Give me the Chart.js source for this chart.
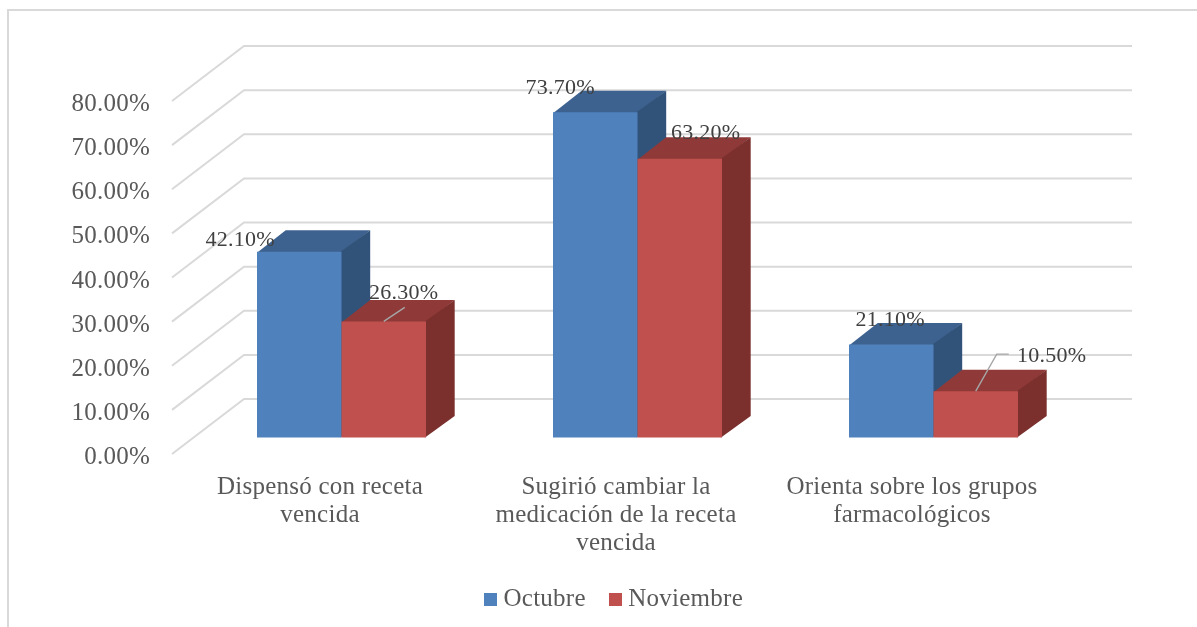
<!DOCTYPE html>
<html>
<head>
<meta charset="utf-8">
<style>
  body { margin: 0; background: #fff; }
  canvas { display: block; }
</style>
<script src="https://cdn.jsdelivr.net/npm/chart.js@4"></script>
</head>
<body>
<canvas id="recetaChart" width="1197" height="627"></canvas>
<script>
const categories = [
  ['Dispensó con receta', 'vencida'],
  ['Sugirió cambiar la', 'medicación de la receta', 'vencida'],
  ['Orienta sobre los grupos', 'farmacológicos']
];
const octubre = [42.1, 73.7, 21.1];
const noviembre = [26.3, 63.2, 10.5];
const yTicks = [0, 10, 20, 30, 40, 50, 60, 70, 80];

const FONT = '"Liberation Serif", serif';
const SPACING = '0.25px';
const floorDepth = { x: 72, y: -55 };
const barShift = { x: 21.5, y: -16.5 };
const barDepth = { x: 28.7, y: -21.5 };
const wallRight = 1132;

// label position relative to the top centre of each bar
const labelOffsets = [
  [[-59, -13], [-35, -25], [-1, -25]],
  [[20, -29], [26, -26], [76, -36]]
];
const faceColors = [
  { top: '#3e628f', side: '#325379' },
  { top: '#8f3a38', side: '#7b302e' }
];

function pct(v) { return v.toFixed(2) + '%'; }

function swatch(color) {
  const c = document.createElement('canvas');
  c.width = 13;
  c.height = 13;
  const g = c.getContext('2d');
  g.fillStyle = color;
  g.fillRect(0, 0, 13, 13);
  return c;
}

function face(ctx, pts, color) {
  ctx.fillStyle = color;
  ctx.beginPath();
  pts.forEach((p, i) => i ? ctx.lineTo(p[0], p[1]) : ctx.moveTo(p[0], p[1]));
  ctx.closePath();
  ctx.fill();
}

// faces run 1px under the front of the bar so no seam shows
function drawFaces(ctx, meta, colors) {
  meta.data.forEach(bar => {
    const l = bar.x - bar.width / 2;
    const r = bar.x + bar.width / 2;
    const t = bar.y;
    const b = bar.base;
    const dx = barDepth.x;
    const dy = barDepth.y;
    face(ctx, [[l, t + 1], [r, t + 1], [r + dx, t + dy], [l + dx, t + dy]], colors.top);
    face(ctx, [[r - 1, t], [r + dx, t + dy], [r + dx, b + dy], [r - 1, b]], colors.side);
  });
}

// Fake 3D: frame, floor and wall grid, bar depth faces, data labels
const fake3d = {
  id: 'fake3d',
  beforeUpdate(chart) { chart.ctx.letterSpacing = SPACING; },
  afterLayout(chart) {
    chart.legend.left = 141;
    chart.legend.right = 1092;
    chart.legend.top = 558;
  },
  beforeDraw(chart) {
    const ctx = chart.ctx;
    ctx.letterSpacing = SPACING;
    ctx.save();
    ctx.strokeStyle = '#d9d9d9';
    ctx.lineWidth = 2;
    ctx.beginPath();
    ctx.moveTo(8, 627);
    ctx.lineTo(8, 10);
    ctx.lineTo(1197, 10);
    ctx.stroke();
    ctx.restore();
  },
  beforeDatasetsDraw(chart) {
    const ctx = chart.ctx;
    const y = chart.scales.y;
    const left = chart.chartArea.left;
    ctx.save();
    ctx.strokeStyle = '#d9d9d9';
    ctx.lineWidth = 2;
    y.ticks.forEach(t => {
      const py = y.getPixelForValue(t.value);
      ctx.beginPath();
      ctx.moveTo(left, py);
      ctx.lineTo(left + floorDepth.x, py + floorDepth.y);
      ctx.lineTo(wallRight, py + floorDepth.y);
      ctx.stroke();
    });
    ctx.restore();
    ctx.save();
    ctx.translate(barShift.x, barShift.y);
  },
  // Chart.js paints the last dataset first, the red bars have to go on top
  beforeDatasetDraw(chart, args) {
    if (args.index === 1) return false;
    drawFaces(chart.ctx, args.meta, faceColors[args.index]);
  },
  afterDatasetsDraw(chart) {
    const ctx = chart.ctx;
    const red = chart.getDatasetMeta(1);
    drawFaces(ctx, red, faceColors[1]);
    red.controller.draw();
    // leader lines
    const small = red.data;
    ctx.strokeStyle = '#a6a6a6';
    ctx.lineWidth = 1.4;
    ctx.beginPath();
    ctx.moveTo(small[0].x, small[0].y);
    ctx.lineTo(small[0].x + 21, small[0].y - 14);
    ctx.moveTo(small[2].x, small[2].y);
    ctx.lineTo(small[2].x + 21, small[2].y - 37);
    ctx.lineTo(small[2].x + 33, small[2].y - 37);
    ctx.stroke();
    // data labels
    ctx.fillStyle = '#404040';
    ctx.font = '22px ' + FONT;
    ctx.textAlign = 'center';
    ctx.textBaseline = 'middle';
    chart.data.datasets.forEach((ds, i) => {
      chart.getDatasetMeta(i).data.forEach((bar, j) => {
        const off = labelOffsets[i][j];
        ctx.fillText(pct(ds.data[j]), bar.x + off[0], bar.y + off[1] + 1);
      });
    });
    ctx.restore();
  }
};

new Chart(document.getElementById('recetaChart'), {
  type: 'bar',
  plugins: [fake3d],
  data: {
    labels: categories,
    datasets: [
      { label: 'Octubre', data: octubre, backgroundColor: '#4f81bd', clip: false },
      { label: 'Noviembre', data: noviembre, backgroundColor: '#c0504d', clip: false }
    ]
  },
  options: {
    responsive: false,
    animation: false,
    layout: { padding: { top: 101, right: 137, left: 0, bottom: 0 } },
    datasets: { bar: { barPercentage: 1, categoryPercentage: 169 / 296 } },
    plugins: {
      tooltip: { enabled: false },
      legend: {
        position: 'bottom',
        labels: {
          color: '#595959',
          font: { family: FONT, size: 25 },
          usePointStyle: true,
          boxWidth: 1,
          boxHeight: 13,
          padding: 29,
          generateLabels(chart) {
            return Chart.defaults.plugins.legend.labels.generateLabels(chart).map(l => {
              l.pointStyle = swatch(l.fillStyle);
              return l;
            });
          }
        }
      }
    },
    scales: {
      x: {
        grid: { display: false },
        border: { display: false },
        afterFit(s) { s.height = 627 - 454 - s.chart.legend.height; },
        ticks: {
          color: '#595959',
          font: { family: FONT, size: 25, lineHeight: 28 / 25 },
          padding: 11,
          autoSkip: false,
          maxRotation: 0
        }
      },
      y: {
        min: 0,
        max: 80,
        grid: { display: false, drawTicks: false },
        border: { display: false },
        afterFit(s) { s.width = 172; },
        afterBuildTicks(s) { s.ticks = yTicks.map(v => ({ value: v })); },
        ticks: {
          color: '#595959',
          // blank first line pushes the text down a little, as in the original
          font: { family: FONT, size: 25, lineHeight: 7 / 25 },
          padding: 22,
          callback: v => ['', pct(v)]
        }
      }
    }
  }
});
</script>
</body>
</html>
